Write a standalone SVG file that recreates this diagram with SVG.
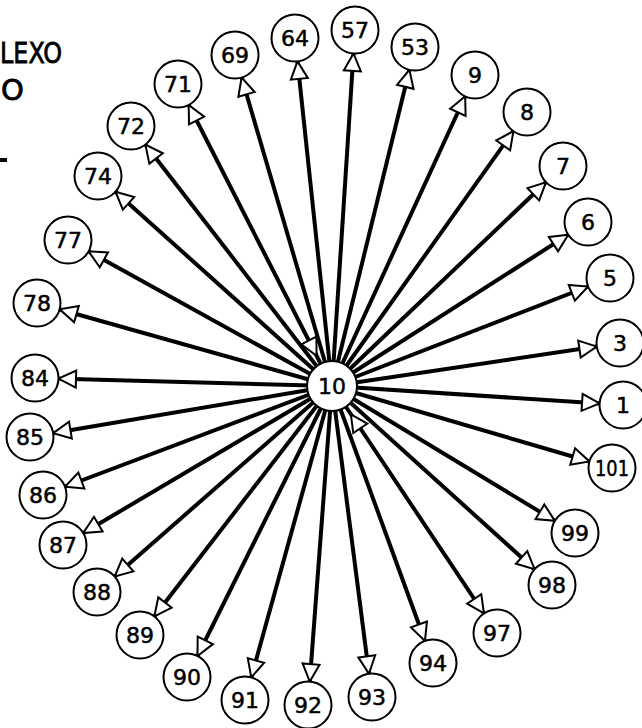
<svg xmlns="http://www.w3.org/2000/svg" width="642" height="728" viewBox="0 0 642 728">
<style>
.edge{stroke:#000;stroke-width:4;fill:none;marker-end:url(#out)}
.node circle{fill:#fff;stroke:#000;stroke-width:2}
.node text{font-family:"DejaVu Sans","Liberation Sans",sans-serif;font-size:22px;text-anchor:middle;dominant-baseline:central;fill:#000;stroke:#000;stroke-width:0.5}
.title{font-family:"DejaVu Sans","Liberation Sans",sans-serif;font-size:29px;fill:#000;stroke:#000;stroke-width:0.8}
</style>
<defs>
<marker id="out" markerUnits="userSpaceOnUse" markerWidth="60" markerHeight="30" refX="41" refY="0" viewBox="-2 -12 60 24" orient="auto" overflow="visible">
<path d="M0,-8.5 L17.5,0 L0,8.5 Z" fill="#fff" stroke="#000" stroke-width="2"/>
</marker>
<marker id="in" markerUnits="userSpaceOnUse" markerWidth="80" markerHeight="30" refX="0" refY="0" viewBox="-2 -12 80 24" orient="auto" overflow="visible">
<path d="M34,0 L51,-8.5 L51,8.5 Z" fill="#fff" stroke="#000" stroke-width="2"/>
</marker>
</defs>
<text class="title" x="0" y="63" textLength="62" lengthAdjust="spacingAndGlyphs">LEXO</text>
<text class="title" x="1" y="100">O</text>
<rect x="0" y="158" width="7" height="4" fill="#000"/>
<g id="connectors">
<line class="edge" x1="332" y1="386" x2="235" y2="55"/>
<line class="edge" x1="332" y1="386" x2="295" y2="38"/>
<line class="edge" x1="332" y1="386" x2="355" y2="30"/>
<line class="edge" x1="332" y1="386" x2="415" y2="47"/>
<line class="edge" x1="332" y1="386" x2="475" y2="75"/>
<line class="edge" x1="332" y1="386" x2="527" y2="112"/>
<line class="edge" x1="332" y1="386" x2="563" y2="166"/>
<line class="edge" x1="332" y1="386" x2="588" y2="222"/>
<line class="edge" x1="332" y1="386" x2="610" y2="278"/>
<line class="edge" x1="332" y1="386" x2="620" y2="343"/>
<line class="edge" x1="332" y1="386" x2="623" y2="405"/>
<line class="edge" x1="332" y1="386" x2="612" y2="468"/>
<line class="edge" x1="332" y1="386" x2="575" y2="533"/>
<line class="edge" x1="332" y1="386" x2="552" y2="585"/>
<line class="edge" x1="332" y1="386" x2="497" y2="633" style="marker-start:url(#in)"/>
<line class="edge" x1="332" y1="386" x2="433" y2="663"/>
<line class="edge" x1="332" y1="386" x2="372" y2="697"/>
<line class="edge" x1="332" y1="386" x2="308" y2="705"/>
<line class="edge" x1="332" y1="386" x2="245" y2="700"/>
<line class="edge" x1="332" y1="386" x2="187" y2="677"/>
<line class="edge" x1="332" y1="386" x2="140" y2="635"/>
<line class="edge" x1="332" y1="386" x2="97" y2="592"/>
<line class="edge" x1="332" y1="386" x2="63" y2="545"/>
<line class="edge" x1="332" y1="386" x2="43" y2="495"/>
<line class="edge" x1="332" y1="386" x2="30" y2="437"/>
<line class="edge" x1="332" y1="386" x2="35" y2="378"/>
<line class="edge" x1="332" y1="386" x2="37" y2="303"/>
<line class="edge" x1="332" y1="386" x2="68" y2="240"/>
<line class="edge" x1="332" y1="386" x2="98" y2="176"/>
<line class="edge" x1="332" y1="386" x2="131" y2="126"/>
<line class="edge" x1="332" y1="386" x2="178" y2="84" style="marker-start:url(#in)"/>
</g>
<g id="n10" class="node"><circle cx="332" cy="386" r="25"/><text x="332" y="386">10</text></g>
<g id="n69" class="node"><circle cx="235" cy="55" r="23.5"/><text x="235" y="55">69</text></g>
<g id="n64" class="node"><circle cx="295" cy="38" r="23.5"/><text x="295" y="38">64</text></g>
<g id="n57" class="node"><circle cx="355" cy="30" r="23.5"/><text x="355" y="30">57</text></g>
<g id="n53" class="node"><circle cx="415" cy="47" r="23.5"/><text x="415" y="47">53</text></g>
<g id="n9" class="node"><circle cx="475" cy="75" r="23.5"/><text x="475" y="75">9</text></g>
<g id="n8" class="node"><circle cx="527" cy="112" r="23.5"/><text x="527" y="112">8</text></g>
<g id="n7" class="node"><circle cx="563" cy="166" r="23.5"/><text x="563" y="166">7</text></g>
<g id="n6" class="node"><circle cx="588" cy="222" r="23.5"/><text x="588" y="222">6</text></g>
<g id="n5" class="node"><circle cx="610" cy="278" r="23.5"/><text x="610" y="278">5</text></g>
<g id="n3" class="node"><circle cx="620" cy="343" r="23.5"/><text x="620" y="343">3</text></g>
<g id="n1" class="node"><circle cx="623" cy="405" r="23.5"/><text x="623" y="405">1</text></g>
<g id="n101" class="node"><circle cx="612" cy="468" r="23.5"/><text x="612" y="468" textLength="34" lengthAdjust="spacingAndGlyphs">101</text></g>
<g id="n99" class="node"><circle cx="575" cy="533" r="23.5"/><text x="575" y="533">99</text></g>
<g id="n98" class="node"><circle cx="552" cy="585" r="23.5"/><text x="552" y="585">98</text></g>
<g id="n97" class="node"><circle cx="497" cy="633" r="23.5"/><text x="497" y="633">97</text></g>
<g id="n94" class="node"><circle cx="433" cy="663" r="23.5"/><text x="433" y="663">94</text></g>
<g id="n93" class="node"><circle cx="372" cy="697" r="23.5"/><text x="372" y="697">93</text></g>
<g id="n92" class="node"><circle cx="308" cy="705" r="23.5"/><text x="308" y="705">92</text></g>
<g id="n91" class="node"><circle cx="245" cy="700" r="23.5"/><text x="245" y="700">91</text></g>
<g id="n90" class="node"><circle cx="187" cy="677" r="23.5"/><text x="187" y="677">90</text></g>
<g id="n89" class="node"><circle cx="140" cy="635" r="23.5"/><text x="140" y="635">89</text></g>
<g id="n88" class="node"><circle cx="97" cy="592" r="23.5"/><text x="97" y="592">88</text></g>
<g id="n87" class="node"><circle cx="63" cy="545" r="23.5"/><text x="63" y="545">87</text></g>
<g id="n86" class="node"><circle cx="43" cy="495" r="23.5"/><text x="43" y="495">86</text></g>
<g id="n85" class="node"><circle cx="30" cy="437" r="23.5"/><text x="30" y="437">85</text></g>
<g id="n84" class="node"><circle cx="35" cy="378" r="23.5"/><text x="35" y="378">84</text></g>
<g id="n78" class="node"><circle cx="37" cy="303" r="23.5"/><text x="37" y="303">78</text></g>
<g id="n77" class="node"><circle cx="68" cy="240" r="23.5"/><text x="68" y="240">77</text></g>
<g id="n74" class="node"><circle cx="98" cy="176" r="23.5"/><text x="98" y="176">74</text></g>
<g id="n72" class="node"><circle cx="131" cy="126" r="23.5"/><text x="131" y="126">72</text></g>
<g id="n71" class="node"><circle cx="178" cy="84" r="23.5"/><text x="178" y="84">71</text></g>
</svg>
